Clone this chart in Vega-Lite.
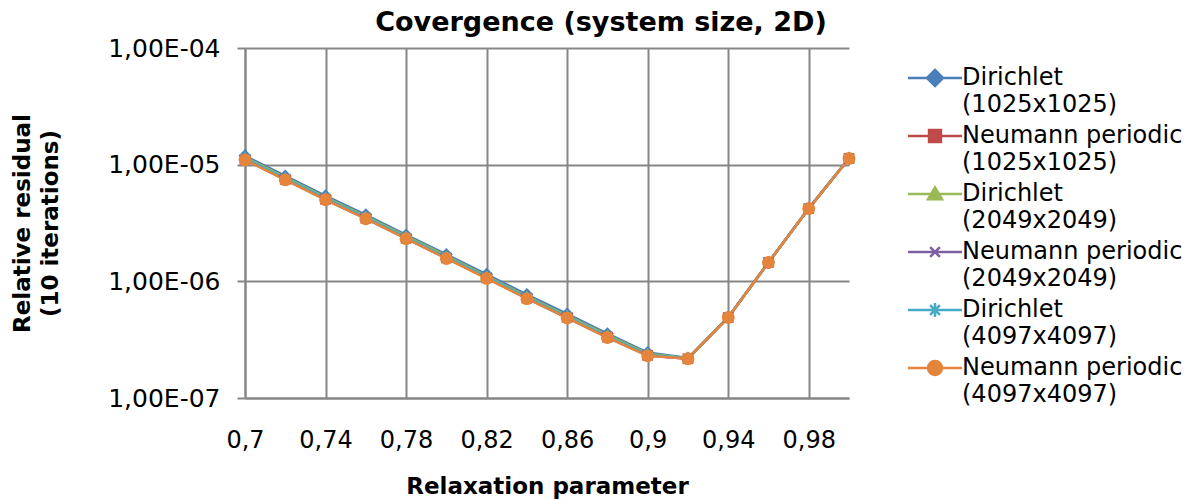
{
  "$schema": "https://vega.github.io/schema/vega-lite/v6.json",
  "width": 604,
  "height": 350,
  "autosize": "none",
  "padding": {"left": 245, "top": 48, "right": 340, "bottom": 102},
  "background": "white",
  "title": {
    "text": "Covergence (system size, 2D)",
    "font": "DejaVu Sans",
    "fontSize": 27,
    "fontWeight": "bold",
    "color": "black",
    "baseline": "alphabetic",
    "offset": 5,
    "dx": 54,
    "dy": 27
  },
  "config": {
    "view": {"stroke": null},
    "font": "DejaVu Sans"
  },
  "data": {
    "values": [
      {"x": 0.70, "s": "Dirichlet (1025x1025)", "v": 1.19e-5},
      {"x": 0.72, "s": "Dirichlet (1025x1025)", "v": 8.0e-6},
      {"x": 0.74, "s": "Dirichlet (1025x1025)", "v": 5.4e-6},
      {"x": 0.76, "s": "Dirichlet (1025x1025)", "v": 3.72e-6},
      {"x": 0.78, "s": "Dirichlet (1025x1025)", "v": 2.5e-6},
      {"x": 0.80, "s": "Dirichlet (1025x1025)", "v": 1.7e-6},
      {"x": 0.82, "s": "Dirichlet (1025x1025)", "v": 1.15e-6},
      {"x": 0.84, "s": "Dirichlet (1025x1025)", "v": 7.7e-7},
      {"x": 0.86, "s": "Dirichlet (1025x1025)", "v": 5.25e-7},
      {"x": 0.88, "s": "Dirichlet (1025x1025)", "v": 3.56e-7},
      {"x": 0.90, "s": "Dirichlet (1025x1025)", "v": 2.45e-7},
      {"x": 0.92, "s": "Dirichlet (1025x1025)", "v": 2.2e-7},
      {"x": 0.94, "s": "Dirichlet (1025x1025)", "v": 4.92e-7},
      {"x": 0.96, "s": "Dirichlet (1025x1025)", "v": 1.46e-6},
      {"x": 0.98, "s": "Dirichlet (1025x1025)", "v": 4.22e-6},
      {"x": 1.00, "s": "Dirichlet (1025x1025)", "v": 1.14e-5},

      {"x": 0.70, "s": "Neumann periodic (1025x1025)", "v": 1.11e-5},
      {"x": 0.72, "s": "Neumann periodic (1025x1025)", "v": 7.47e-6},
      {"x": 0.74, "s": "Neumann periodic (1025x1025)", "v": 5.05e-6},
      {"x": 0.76, "s": "Neumann periodic (1025x1025)", "v": 3.47e-6},
      {"x": 0.78, "s": "Neumann periodic (1025x1025)", "v": 2.34e-6},
      {"x": 0.80, "s": "Neumann periodic (1025x1025)", "v": 1.585e-6},
      {"x": 0.82, "s": "Neumann periodic (1025x1025)", "v": 1.07e-6},
      {"x": 0.84, "s": "Neumann periodic (1025x1025)", "v": 7.17e-7},
      {"x": 0.86, "s": "Neumann periodic (1025x1025)", "v": 4.9e-7},
      {"x": 0.88, "s": "Neumann periodic (1025x1025)", "v": 3.33e-7},
      {"x": 0.90, "s": "Neumann periodic (1025x1025)", "v": 2.32e-7},
      {"x": 0.92, "s": "Neumann periodic (1025x1025)", "v": 2.17e-7},
      {"x": 0.94, "s": "Neumann periodic (1025x1025)", "v": 4.9e-7},
      {"x": 0.96, "s": "Neumann periodic (1025x1025)", "v": 1.45e-6},
      {"x": 0.98, "s": "Neumann periodic (1025x1025)", "v": 4.2e-6},
      {"x": 1.00, "s": "Neumann periodic (1025x1025)", "v": 1.13e-5},

      {"x": 0.70, "s": "Dirichlet (2049x2049)", "v": 1.155e-5},
      {"x": 0.72, "s": "Dirichlet (2049x2049)", "v": 7.77e-6},
      {"x": 0.74, "s": "Dirichlet (2049x2049)", "v": 5.25e-6},
      {"x": 0.76, "s": "Dirichlet (2049x2049)", "v": 3.61e-6},
      {"x": 0.78, "s": "Dirichlet (2049x2049)", "v": 2.44e-6},
      {"x": 0.80, "s": "Dirichlet (2049x2049)", "v": 1.65e-6},
      {"x": 0.82, "s": "Dirichlet (2049x2049)", "v": 1.11e-6},
      {"x": 0.84, "s": "Dirichlet (2049x2049)", "v": 7.45e-7},
      {"x": 0.86, "s": "Dirichlet (2049x2049)", "v": 5.09e-7},
      {"x": 0.88, "s": "Dirichlet (2049x2049)", "v": 3.46e-7},
      {"x": 0.90, "s": "Dirichlet (2049x2049)", "v": 2.4e-7},
      {"x": 0.92, "s": "Dirichlet (2049x2049)", "v": 2.19e-7},
      {"x": 0.94, "s": "Dirichlet (2049x2049)", "v": 4.91e-7},
      {"x": 0.96, "s": "Dirichlet (2049x2049)", "v": 1.455e-6},
      {"x": 0.98, "s": "Dirichlet (2049x2049)", "v": 4.21e-6},
      {"x": 1.00, "s": "Dirichlet (2049x2049)", "v": 1.135e-5},

      {"x": 0.70, "s": "Neumann periodic (2049x2049)", "v": 1.105e-5},
      {"x": 0.72, "s": "Neumann periodic (2049x2049)", "v": 7.44e-6},
      {"x": 0.74, "s": "Neumann periodic (2049x2049)", "v": 5.02e-6},
      {"x": 0.76, "s": "Neumann periodic (2049x2049)", "v": 3.455e-6},
      {"x": 0.78, "s": "Neumann periodic (2049x2049)", "v": 2.33e-6},
      {"x": 0.80, "s": "Neumann periodic (2049x2049)", "v": 1.578e-6},
      {"x": 0.82, "s": "Neumann periodic (2049x2049)", "v": 1.065e-6},
      {"x": 0.84, "s": "Neumann periodic (2049x2049)", "v": 7.13e-7},
      {"x": 0.86, "s": "Neumann periodic (2049x2049)", "v": 4.87e-7},
      {"x": 0.88, "s": "Neumann periodic (2049x2049)", "v": 3.31e-7},
      {"x": 0.90, "s": "Neumann periodic (2049x2049)", "v": 2.31e-7},
      {"x": 0.92, "s": "Neumann periodic (2049x2049)", "v": 2.17e-7},
      {"x": 0.94, "s": "Neumann periodic (2049x2049)", "v": 4.9e-7},
      {"x": 0.96, "s": "Neumann periodic (2049x2049)", "v": 1.45e-6},
      {"x": 0.98, "s": "Neumann periodic (2049x2049)", "v": 4.2e-6},
      {"x": 1.00, "s": "Neumann periodic (2049x2049)", "v": 1.13e-5},

      {"x": 0.70, "s": "Dirichlet (4097x4097)", "v": 1.13e-5},
      {"x": 0.72, "s": "Dirichlet (4097x4097)", "v": 7.6e-6},
      {"x": 0.74, "s": "Dirichlet (4097x4097)", "v": 5.13e-6},
      {"x": 0.76, "s": "Dirichlet (4097x4097)", "v": 3.53e-6},
      {"x": 0.78, "s": "Dirichlet (4097x4097)", "v": 2.38e-6},
      {"x": 0.80, "s": "Dirichlet (4097x4097)", "v": 1.61e-6},
      {"x": 0.82, "s": "Dirichlet (4097x4097)", "v": 1.087e-6},
      {"x": 0.84, "s": "Dirichlet (4097x4097)", "v": 7.28e-7},
      {"x": 0.86, "s": "Dirichlet (4097x4097)", "v": 4.97e-7},
      {"x": 0.88, "s": "Dirichlet (4097x4097)", "v": 3.38e-7},
      {"x": 0.90, "s": "Dirichlet (4097x4097)", "v": 2.35e-7},
      {"x": 0.92, "s": "Dirichlet (4097x4097)", "v": 2.18e-7},
      {"x": 0.94, "s": "Dirichlet (4097x4097)", "v": 4.9e-7},
      {"x": 0.96, "s": "Dirichlet (4097x4097)", "v": 1.45e-6},
      {"x": 0.98, "s": "Dirichlet (4097x4097)", "v": 4.2e-6},
      {"x": 1.00, "s": "Dirichlet (4097x4097)", "v": 1.13e-5},

      {"x": 0.70, "s": "Neumann periodic (4097x4097)", "v": 1.1e-5},
      {"x": 0.72, "s": "Neumann periodic (4097x4097)", "v": 7.4e-6},
      {"x": 0.74, "s": "Neumann periodic (4097x4097)", "v": 5.0e-6},
      {"x": 0.76, "s": "Neumann periodic (4097x4097)", "v": 3.44e-6},
      {"x": 0.78, "s": "Neumann periodic (4097x4097)", "v": 2.32e-6},
      {"x": 0.80, "s": "Neumann periodic (4097x4097)", "v": 1.57e-6},
      {"x": 0.82, "s": "Neumann periodic (4097x4097)", "v": 1.06e-6},
      {"x": 0.84, "s": "Neumann periodic (4097x4097)", "v": 7.1e-7},
      {"x": 0.86, "s": "Neumann periodic (4097x4097)", "v": 4.85e-7},
      {"x": 0.88, "s": "Neumann periodic (4097x4097)", "v": 3.3e-7},
      {"x": 0.90, "s": "Neumann periodic (4097x4097)", "v": 2.3e-7},
      {"x": 0.92, "s": "Neumann periodic (4097x4097)", "v": 2.17e-7},
      {"x": 0.94, "s": "Neumann periodic (4097x4097)", "v": 4.9e-7},
      {"x": 0.96, "s": "Neumann periodic (4097x4097)", "v": 1.45e-6},
      {"x": 0.98, "s": "Neumann periodic (4097x4097)", "v": 4.2e-6},
      {"x": 1.00, "s": "Neumann periodic (4097x4097)", "v": 1.13e-5}
    ]
  },
  "encoding": {
    "x": {
      "field": "x",
      "type": "quantitative",
      "scale": {"domain": [0.7, 1.0], "nice": false, "zero": false},
      "axis": {
        "values": [0.7, 0.74, 0.78, 0.82, 0.86, 0.9, 0.94, 0.98],
        "format": ".2~f",
        "labelExpr": "replace(datum.label, '.', ',')",
        "labelFont": "DejaVu Sans",
        "labelFontSize": 24,
        "labelColor": "black",
        "labelBaseline": "alphabetic",
        "labelPadding": 49,
        "ticks": false,
        "tickSize": 0,
        "labelFlush": false,
        "labelOverlap": false,
        "grid": true,
        "gridColor": "#868686",
        "gridWidth": 2,
        "domainColor": "#868686",
        "domainWidth": 2,
        "title": "Relaxation parameter",
        "titleFont": "DejaVu Sans",
        "titleFontSize": 23,
        "titleFontWeight": "bold",
        "titleColor": "black",
        "titleBaseline": "alphabetic",
        "titleY": 95
      }
    },
    "y": {
      "field": "v",
      "type": "quantitative",
      "scale": {"type": "log", "domain": [1e-7, 1e-4], "nice": false},
      "axis": {
        "values": [1e-7, 1e-6, 1e-5, 1e-4],
        "labelExpr": "'1,00E-0' + round(-log(datum.value)/LN10)",
        "labelFont": "DejaVu Sans",
        "labelFontSize": 25,
        "labelColor": "black",
        "labelPadding": 17,
        "tickSize": 8,
        "tickColor": "#868686",
        "tickWidth": 2,
        "labelFlush": false,
        "labelOverlap": false,
        "grid": true,
        "gridColor": "#868686",
        "gridWidth": 2,
        "domainColor": "#868686",
        "domainWidth": 2,
        "title": ["Relative residual", "(10 iterations)"],
        "titleFont": "DejaVu Sans",
        "titleFontSize": 23,
        "titleFontWeight": "bold",
        "titleColor": "black",
        "titleAngle": -90,
        "titleAlign": "center",
        "titleBaseline": "alphabetic",
        "titleLineHeight": 28,
        "titleX": -216,
        "titleY": 175
      }
    },
    "color": {
      "field": "s",
      "type": "nominal",
      "scale": {
        "domain": ["Dirichlet (1025x1025)", "Neumann periodic (1025x1025)", "Dirichlet (2049x2049)", "Neumann periodic (2049x2049)", "Dirichlet (4097x4097)", "Neumann periodic (4097x4097)"],
        "range": ["#4A7EBB", "#BE4B48", "#98B954", "#7D60A0", "#46AAC5", "#E5853C"]
      },
      "legend": {
        "title": null,
        "orient": "none",
        "legendX": 678,
        "legendY": 18,
        "padding": 0,
        "symbolSize": 196,
        "symbolStrokeWidth": 2.5,
        "labelFont": "DejaVu Sans",
        "labelFontSize": 24,
        "labelColor": "black",
        "labelLimit": 0,
        "labelOffset": 15,
        "labelBaseline": "middle",
        "labelExpr": "[slice(datum.label, 0, indexof(datum.label, ' (')), slice(datum.label, indexof(datum.label, ' (') + 1)]",
        "rowPadding": 7,
        "encode": {
          "symbols": {
            "update": {
              "shape": {"signal": "datum.value === 'Dirichlet (1025x1025)' ? 'M-3.86,0L3.86,0M0,-1.15L1.15,0L0,1.15L-1.15,0Z' : datum.value === 'Neumann periodic (1025x1025)' ? 'M-3.86,0L3.86,0M-0.85,-0.85L0.85,-0.85L0.85,0.85L-0.85,0.85Z' : datum.value === 'Dirichlet (2049x2049)' ? 'M-3.86,0L3.86,0M0,-0.95L1,0.75L-1,0.75Z' : datum.value === 'Neumann periodic (2049x2049)' ? 'M-3.86,0L3.86,0M-0.7,-0.7L0.7,0.7M-0.7,0.7L0.7,-0.7' : datum.value === 'Dirichlet (4097x4097)' ? 'M-3.86,0L3.86,0M-0.7,-0.7L0.7,0.7M-0.7,0.7L0.7,-0.7M0,-1L0,1' : 'M-3.86,0L3.86,0M-1,0A1,1,0,1,0,1,0A1,1,0,1,0,-1,0Z'"},
              "fill": {"scale": "color", "field": "value"},
              "stroke": {"scale": "color", "field": "value"},
              "strokeWidth": {"value": 2.5},
              "opacity": {"value": 1}
            }
          },
          "labels": {
            "update": {"lineHeight": {"value": 27}}
          }
        }
      }
    }
  },
  "layer": [
    {
      "mark": {"type": "line", "strokeWidth": 2.5}
    },
    {
      "transform": [{"filter": "datum.s === 'Dirichlet (1025x1025)'"}],
      "mark": {"type": "point", "filled": true, "size": 170, "opacity": 1, "shape": "M0,-1L1,0L0,1L-1,0Z"}
    },
    {
      "transform": [{"filter": "datum.s === 'Neumann periodic (1025x1025)'"}],
      "mark": {"type": "point", "filled": true, "size": 115, "opacity": 1, "shape": "square"}
    },
    {
      "transform": [{"filter": "datum.s === 'Dirichlet (2049x2049)'"}],
      "mark": {"type": "point", "filled": true, "size": 150, "opacity": 1, "shape": "M0,-0.95L1,0.75L-1,0.75Z"}
    },
    {
      "transform": [{"filter": "datum.s === 'Neumann periodic (2049x2049)'"}],
      "mark": {"type": "point", "filled": false, "size": 150, "strokeWidth": 2, "opacity": 1, "shape": "M-0.7,-0.7L0.7,0.7M-0.7,0.7L0.7,-0.7"}
    },
    {
      "transform": [{"filter": "datum.s === 'Dirichlet (4097x4097)'"}],
      "mark": {"type": "point", "filled": false, "size": 150, "strokeWidth": 2, "opacity": 1, "shape": "M-0.7,-0.7L0.7,0.7M-0.7,0.7L0.7,-0.7M0,-1L0,1"}
    },
    {
      "transform": [{"filter": "datum.s === 'Neumann periodic (4097x4097)'"}],
      "mark": {"type": "point", "filled": true, "size": 165, "opacity": 1, "shape": "circle"}
    }
  ]
}
